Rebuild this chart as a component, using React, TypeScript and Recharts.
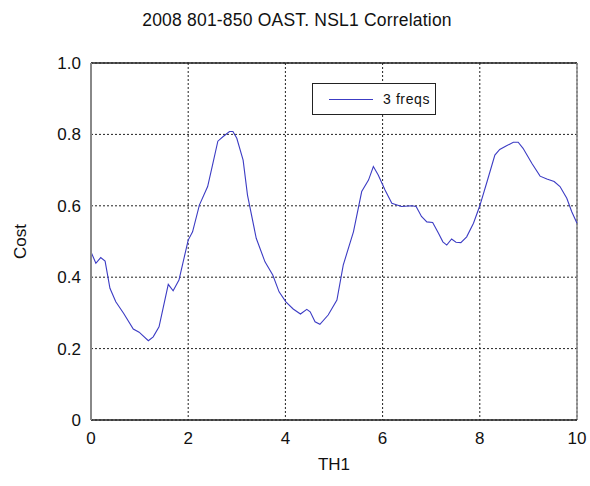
import {
  CartesianGrid,
  Legend,
  Line,
  LineChart,
  ReferenceLine,
  XAxis,
  YAxis,
} from 'recharts';

const TH1 = [
  0.0, 0.1, 0.2, 0.29, 0.39, 0.51, 0.67, 0.87, 0.99, 1.18, 1.28, 1.4, 1.59, 1.69, 1.81,
  2.0, 2.09, 2.23, 2.4, 2.5, 2.61, 2.72, 2.85, 2.92, 3.0, 3.13, 3.22, 3.4, 3.58, 3.74,
  3.87, 4.01, 4.16, 4.31, 4.44, 4.51, 4.61, 4.71, 4.88, 5.06, 5.19, 5.4, 5.57, 5.71,
  5.81, 5.91, 6.05, 6.19, 6.39, 6.6, 6.69, 6.8, 6.91, 7.03, 7.15, 7.24, 7.32, 7.42,
  7.51, 7.61, 7.73, 7.87, 8.0, 8.15, 8.31, 8.41, 8.55, 8.69, 8.79, 8.89, 9.07, 9.24,
  9.38, 9.53, 9.65, 9.79, 9.89, 10.0,
];

const COST = [
  0.471, 0.439, 0.455, 0.445, 0.369, 0.331, 0.299, 0.255, 0.246, 0.222, 0.233, 0.261, 0.38, 0.362, 0.392,
  0.504, 0.527, 0.602, 0.654, 0.714, 0.781, 0.794, 0.808, 0.808, 0.789, 0.728, 0.63, 0.509, 0.443, 0.406,
  0.359, 0.331, 0.311, 0.297, 0.31, 0.303, 0.275, 0.268, 0.294, 0.336, 0.434, 0.527, 0.64, 0.672,
  0.71, 0.686, 0.644, 0.607, 0.598, 0.6, 0.598, 0.57, 0.555, 0.553, 0.523, 0.499, 0.49, 0.507,
  0.498, 0.497, 0.513, 0.551, 0.6, 0.668, 0.742, 0.758, 0.768, 0.778, 0.778, 0.761, 0.719, 0.683,
  0.675, 0.668, 0.654, 0.621, 0.584, 0.551,
];

const X_TICKS = [0, 2, 4, 6, 8, 10];
const Y_TICKS = [0, 0.2, 0.4, 0.6, 0.8, 1.0];
const Y_MINOR = [0.1, 0.3, 0.5, 0.7, 0.9];
const SERIES_NAME = '3 freqs';

const data = TH1.map((x, i) => ({ th1: x, cost: COST[i] }));

const FONT = '"Liberation Sans", Arial, sans-serif';
const LINE_COLOR = '#3c3cc4';

function FreqLegend() {
  return (
    <div style={{
      border: '1px solid #222',
      background: '#fff',
      width: 124,
      height: 32,
      display: 'flex',
      alignItems: 'center',
      boxSizing: 'border-box',
      fontFamily: FONT,
    }}>
      <span style={{ display: 'inline-block', width: 44, height: 0, borderTop: `1px solid ${LINE_COLOR}`, marginLeft: 16 }} />
      <span style={{ fontSize: 14, letterSpacing: 0.6, marginLeft: 10, color: '#111' }}>{SERIES_NAME}</span>
    </div>
  );
}

export default function App() {
  return (
    <div style={{ position: 'absolute', left: 0, top: 0, width: 590, height: 486, background: '#fff', fontFamily: FONT }}>
      <div style={{ position: 'absolute', left: 0, width: 594, top: 10, textAlign: 'center', fontSize: 17.5, letterSpacing: 0.2, color: '#111' }}>
        2008 801-850 OAST. NSL1 Correlation
      </div>
      <LineChart width={590} height={486} data={data} margin={{ top: 63, right: 13, bottom: 36, left: 51 }}>
        <CartesianGrid stroke="#222" strokeDasharray="2 2" horizontalValues={Y_TICKS} verticalValues={X_TICKS} />
        <XAxis
          dataKey="th1" type="number" domain={[0, 10]} ticks={X_TICKS}
          height={30} tickLine={false} tickMargin={6}
          axisLine={{ stroke: '#222', strokeWidth: 1.5 }}
          tick={{ fill: '#111', fontSize: 17, fontFamily: FONT }}
          label={{ value: 'TH1', position: 'bottom', offset: 8, fill: '#111', fontSize: 17, fontFamily: FONT }}
        />
        <YAxis
          type="number" domain={[0, 1]} ticks={Y_TICKS}
          width={40} tickLine={false} tickMargin={4}
          axisLine={{ stroke: '#888', strokeWidth: 2 }}
          tick={{ fill: '#111', fontSize: 17, fontFamily: FONT }}
          tickFormatter={(v: number) => (v === 0 ? '0' : v.toFixed(1))}
          label={{ value: 'Cost', angle: -90, position: 'insideLeft', offset: -31, fill: '#111', fontSize: 17, fontFamily: FONT, style: { textAnchor: 'middle' } }}
        />
        <YAxis
          yAxisId="minor" type="number" domain={[0, 1]} ticks={Y_MINOR}
          mirror width={0} tick={false} axisLine={false} tickSize={3}
          tickLine={{ stroke: '#555' }}
        />
        <ReferenceLine y={1} stroke="#222" strokeWidth={1.5} />
        <ReferenceLine x={10} stroke="#888" strokeWidth={1.5} />
        <Legend
          verticalAlign="middle" align="center" layout="horizontal"
          wrapperStyle={{ position: 'absolute', left: 312, top: 83, width: 124 }}
          content={() => <FreqLegend />}
        />
        <Line
          type="linear" dataKey="cost" name={SERIES_NAME}
          stroke={LINE_COLOR} strokeWidth={1.1} dot={false} activeDot={false}
          isAnimationActive={false}
        />
      </LineChart>
    </div>
  );
}
